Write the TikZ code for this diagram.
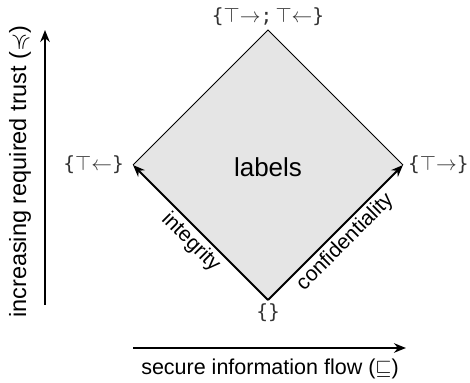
\documentclass[tikz,border=0pt]{standalone}
\usepackage{amssymb}
\usepackage{fontspec}
\setmainfont{Liberation Sans}
\newfontfamily\latmono{DejaVu Sans Mono}
\usetikzlibrary{positioning,arrows.meta}
\newdimen\sideDist
\sideDist=190.9pt
\newcommand{\lblset}[1]{{\latmono\{}#1{\latmono\}}}

\begin{document}
\begin{tikzpicture}[
    x=1pt, y=1pt,
    lbl/.style={%
      font=\fontsize{19.5}{23}\selectfont,
      text=black!80,
      inner sep=1pt,
    },
    flow/.style={%
      line width=2pt,
      -{Stealth[length=12pt,width=9.5pt]},
    },
    axislbl/.style={%
      font=\fontsize{21.5}{25}\selectfont,
    },
    edgelbl/.style={%
      font=\fontsize{21}{25}\selectfont,
      sloped,
      below,
      inner sep=3pt,
    },
  ]
    \useasboundingbox (0,0) rectangle (470,382);

    \coordinate (B) at (268,82);
    \path (B) ++(135:\sideDist) coordinate (L);
    \path (B) ++(45:\sideDist) coordinate (R);
    \path (L) ++(45:\sideDist) coordinate (T);

    \fill [black!10] (B) -- (R) -- (T) -- (L) -- cycle;
    \draw [line width=0.8pt] (L) -- (T) -- (R);
    \draw [flow] (B) -- (L) node [edgelbl,pos=0.5] {integrity};
    \draw [flow] (B) -- (R) node [edgelbl,pos=0.5] {confidentiality};

    \node [font=\fontsize{26}{30}\selectfont] (C) at (268,215) {labels};
    \node [lbl,below=2pt of B] (bot) {\lblset{}};
    \node [lbl,left=8pt of L] (lft) {\lblset{$\top{\leftarrow}$}};
    \node [lbl,right=4pt of R] (rgt) {\lblset{$\top{\rightarrow}$}};
    \node [lbl,above=3pt of T] (top) {\lblset{$\top{\rightarrow}${\latmono;}\,$\top{\leftarrow}$}};

    % axes
    \coordinate (V0) at (45,77);
    \coordinate (V1) at (45,352);
    \coordinate (H0) at (133,34);
    \coordinate (H1) at (406,34);
    \draw [flow] (V0) -- (V1);
    \draw [flow] (H0) -- (H1);
    \node [axislbl,font=\fontsize{23.5}{27}\selectfont,rotate=90] (trust) at (20,210.5) {increasing required trust ($\preccurlyeq$)};
    \node [axislbl] (sec) at (270,13) {secure information flow ($\sqsubseteq$)};
\end{tikzpicture}
\end{document}
